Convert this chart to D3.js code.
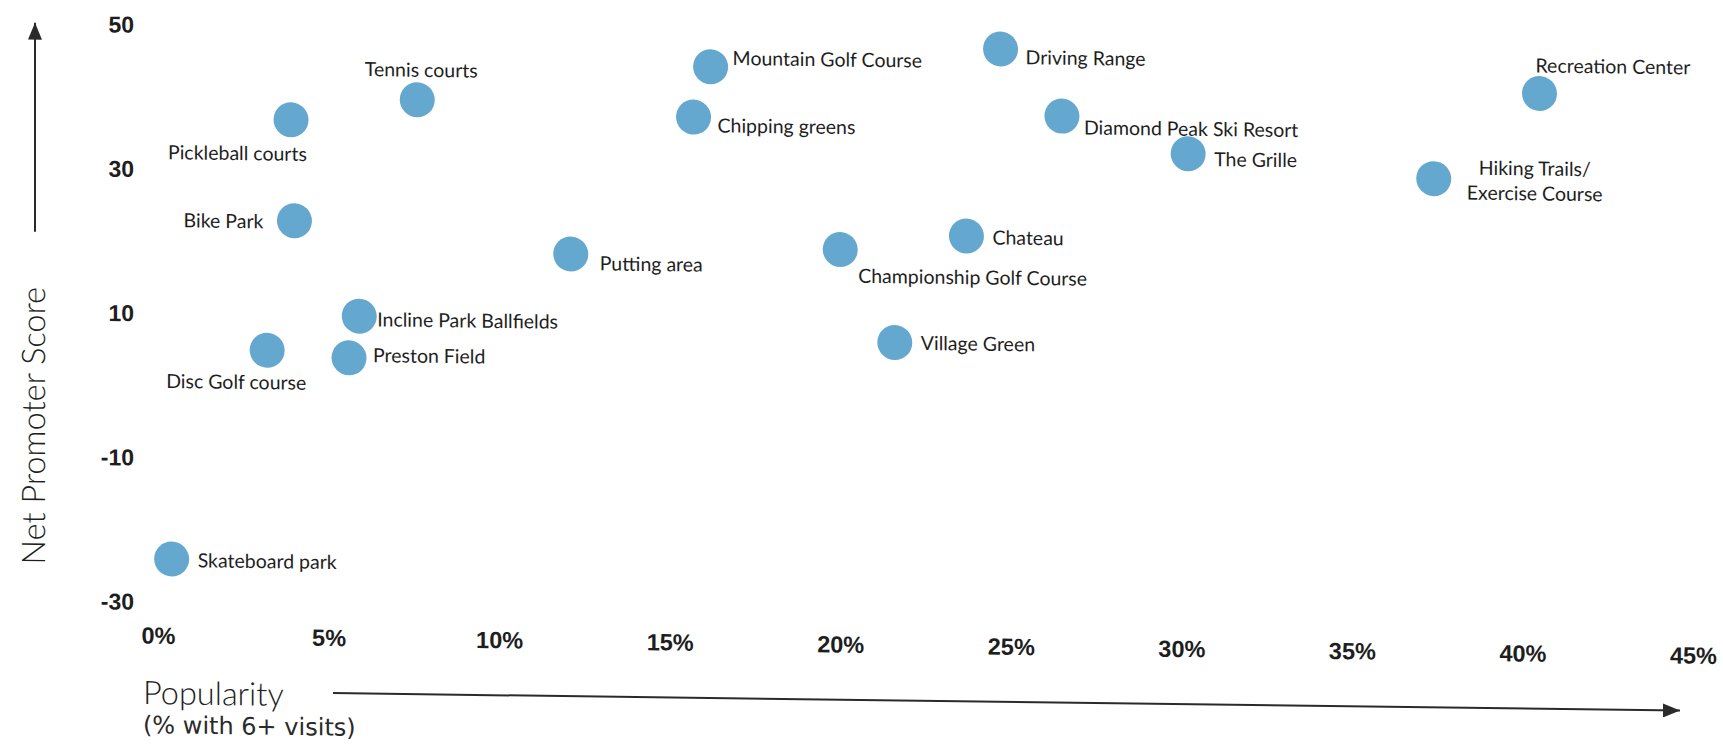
<!DOCTYPE html>
<html>
<head>
<meta charset="utf-8">
<script src="https://cdn.jsdelivr.net/npm/d3@7"></script>
<style>
  html, body { margin: 0; padding: 0; background: #ffffff; }
  svg { display: block; }
</style>
</head>
<body>
<svg id="chart" width="1723" height="744"></svg>
<script>
// Amenities, popularity (% of respondents with 6+ visits) and Net Promoter Score
const amenities = [
  "Skateboard park", "Disc Golf course", "Preston Field", "Incline Park Ballfields",
  "Bike Park", "Pickleball courts", "Tennis courts", "Putting area",
  "Mountain Golf Course", "Chipping greens", "Championship Golf Course", "Village Green",
  "Chateau", "Driving Range", "Diamond Peak Ski Resort", "The Grille",
  "Hiking Trails/\nExercise Course", "Recreation Center"
];
const popularity = [0.4, 3.2, 5.6, 5.9, 4.0, 3.9, 7.6, 12.1, 16.2, 15.7, 20.0, 21.6, 23.7, 24.7, 26.5, 30.2, 37.4, 40.5];
const netPromoter = [-24.1, 5.0, 4.1, 9.9, 23.0, 37.0, 40.0, 18.9, 45.1, 38.1, 20.0, 7.2, 22.1, 48.1, 38.9, 33.9, 30.9, 42.9];

const xTicks = [0, 5, 10, 15, 20, 25, 30, 35, 40, 45];
const yTicks = [50, 30, 10, -10, -30];

// Where each label sits relative to its bubble: [anchor, dx, dy]
const labelPlacement = [
  ["start", 26, 0], ["start", -101, 31], ["start", 24, -4], ["start", 18, 2],
  ["end", -31, 0], ["start", -123, 33], ["middle", 4, -31], ["start", 29, 8],
  ["start", 22, -10], ["start", 24, 7], ["start", 18, 25], ["start", 26, -1],
  ["start", 26, 0], ["start", 25, 7], ["start", 22, 10], ["start", 26, 4],
  ["middle", 101, 0], ["start", -4, -29]
];

const points = amenities.map((name, i) => ({
  name, x: popularity[i], y: netPromoter[i], place: labelPlacement[i]
}));

const svg = d3.select("#chart");
svg.append("rect").attr("width", 1723).attr("height", 744).attr("fill", "#ffffff");

// the printed page sits very slightly askew
const slope = 0.013;
const root = svg.append("g")
  .attr("transform", `translate(0,${-slope * 134}) skewY(${Math.atan(slope) * 180 / Math.PI})`);

const x = d3.scaleLinear().domain([0, 45]).range([158, 1693]);
const y = d3.scaleLinear().domain([-30, 50]).range([601, 24]);

const ink = "#1e1e1e";
const tickFont = "'Liberation Sans', Arial, sans-serif";
const labelFont = "Lato, 'Open Sans', sans-serif";

// x axis tick labels
const xAxis = root.append("g")
  .attr("transform", "translate(0,635)")
  .call(d3.axisBottom(x).tickValues(xTicks).tickSize(0).tickPadding(0).tickFormat(d => d + "%"));
xAxis.select(".domain").remove();
xAxis.selectAll("text")
  .attr("y", 0).attr("dy", "0.36em")
  .attr("font-family", tickFont).attr("font-weight", "bold")
  .attr("font-size", 23.5).attr("fill", ink);

// y axis tick labels (plain hyphen for negatives)
const yAxis = root.append("g")
  .attr("transform", "translate(134,0)")
  .call(d3.axisLeft(y).tickValues(yTicks).tickSize(0).tickPadding(0).tickFormat(d => String(d)));
yAxis.select(".domain").remove();
yAxis.selectAll("text")
  .attr("dy", "0.36em")
  .attr("font-family", tickFont).attr("font-weight", "bold")
  .attr("font-size", 23).attr("fill", ink);

// arrowheads
const defs = svg.append("defs");
defs.append("marker")
  .attr("id", "arrow")
  .attr("viewBox", "0 0 10 10")
  .attr("refX", 10).attr("refY", 5)
  .attr("markerWidth", 17).attr("markerHeight", 14)
  .attr("markerUnits", "userSpaceOnUse")
  .attr("orient", "auto")
  .attr("preserveAspectRatio", "none")
  .append("path").attr("d", "M0,0 L10,5 L0,10 Z").attr("fill", "#2a2a2a");

const axisLines = root.append("g").attr("stroke", "#2a2a2a").attr("stroke-width", 2).attr("fill", "none");
axisLines.append("line")
  .attr("x1", 35).attr("y1", 233).attr("x2", 35).attr("y2", 24)
  .attr("marker-end", "url(#arrow)");
axisLines.append("line")
  .attr("x1", 333).attr("y1", 690.5).attr("x2", 1680).attr("y2", 690.5)
  .attr("marker-end", "url(#arrow)");

// axis titles
root.append("text")
  .attr("transform", "translate(33,427) rotate(-90)")
  .attr("text-anchor", "middle").attr("dominant-baseline", "central")
  .attr("font-family", labelFont).attr("font-weight", 300)
  .attr("font-size", 32.5).attr("fill", ink)
  .text("Net Promoter Score");

root.append("text")
  .attr("x", 143).attr("y", 704)
  .attr("font-family", labelFont).attr("font-weight", 300)
  .attr("font-size", 32.5).attr("fill", ink)
  .text("Popularity");

root.append("text")
  .attr("x", 143).attr("y", 733)
  .attr("font-family", "'DejaVu Sans', Verdana, sans-serif")
  .attr("font-size", 24).attr("fill", "#2a2a2a")
  .text("(% with 6+ visits)");

// bubbles
root.append("g").selectAll("circle")
  .data(points)
  .join("circle")
  .attr("cx", d => x(d.x))
  .attr("cy", d => y(d.y))
  .attr("r", 17.5)
  .attr("fill", "#64a8d0");

// bubble labels
const labels = root.append("g")
  .attr("font-family", labelFont)
  .attr("font-size", 19.5)
  .attr("fill", ink);

points.forEach(d => {
  const [anchor, dx, dy] = d.place;
  const lines = d.name.split("\n");
  const t = labels.append("text")
    .attr("text-anchor", anchor)
    .attr("dominant-baseline", "central");
  const lineGap = 25;
  const top = dy - (lines.length - 1) * lineGap / 2;
  lines.forEach((ln, j) => {
    t.append("tspan")
      .attr("x", x(d.x) + dx)
      .attr("y", y(d.y) + top + j * lineGap)
      .text(ln);
  });
});
</script>
</body>
</html>
